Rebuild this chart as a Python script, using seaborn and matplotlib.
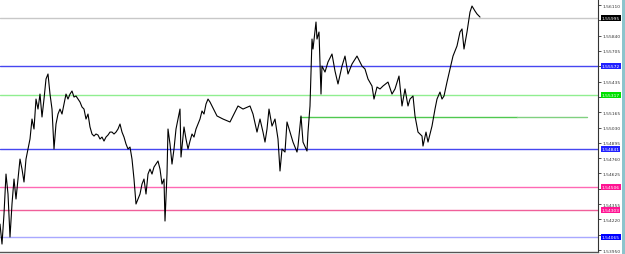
import matplotlib
matplotlib.use("Agg")
import matplotlib.pyplot as plt
import seaborn as sns
import pandas as pd
from matplotlib.patches import Rectangle

sns.set_theme(style="white")
plt.rcParams['font.family'] = ['DejaVu Sans']

# bar index (time) and close price
bar = [0, 2, 4, 6, 8, 10, 12, 14, 16, 18, 20, 22, 24, 26, 28, 30, 32, 34, 36, 38,
       40, 42, 44, 46, 48, 50, 52, 54, 56, 58, 60, 62, 64, 66, 68, 70, 72, 74, 76, 78,
       80, 82, 84, 86, 88, 90, 92, 94, 96, 98, 100, 102, 104, 106, 108, 110, 112, 114, 116, 118,
       120, 122, 124, 126, 128, 130, 132, 134, 136, 138, 140, 142, 144, 146, 148, 150, 152, 154, 156, 158,
       160, 162, 164, 165, 167, 168, 170, 172, 174, 176, 178, 180, 181, 184, 186, 188, 190, 192, 194, 196,
       198, 200, 202, 204, 206, 208, 210, 217, 223, 230, 233, 238, 243, 250, 253, 257, 260, 263, 265, 267,
       269, 272, 275, 278, 280, 282, 285, 287, 290, 293, 297, 298, 301, 303, 307, 308, 310, 312, 313, 316,
       317, 319, 321, 322, 325, 328, 332, 335, 338, 342, 345, 348, 352, 357, 362, 365, 368, 372, 374, 377,
       380, 383, 388, 392, 395, 399, 402, 405, 408, 410, 413, 415, 418, 422, 423, 426, 428, 432, 435, 437,
       440, 442, 444, 447, 450, 453, 457, 460, 462, 464, 467, 470, 472, 475, 477, 480]
price = [1.54179, 1.54003, 1.54268, 1.54620, 1.54444, 1.54065, 1.54356, 1.54576, 1.54400, 1.54576,
         1.54752, 1.54664, 1.54550, 1.54752, 1.54841, 1.54929, 1.55105, 1.55017, 1.55281, 1.55193,
         1.55325, 1.55123, 1.55281, 1.55458, 1.55502, 1.55325, 1.55193, 1.54841, 1.55061, 1.55149,
         1.55193, 1.55149, 1.55237, 1.55325, 1.55281, 1.55325, 1.55352, 1.55299, 1.55308, 1.55281,
         1.55255, 1.55211, 1.55193, 1.55105, 1.55149, 1.55035, 1.54973, 1.54955, 1.54973, 1.54964,
         1.54929, 1.54946, 1.54911, 1.54946, 1.54964, 1.54990, 1.54990, 1.54973, 1.54990, 1.55017,
         1.55061, 1.54990, 1.54946, 1.54885, 1.54841, 1.54858, 1.54752, 1.54576, 1.54356, 1.54400,
         1.54444, 1.54532, 1.54576, 1.54444, 1.54620, 1.54664, 1.54620, 1.54682, 1.54708, 1.54735,
         1.54664, 1.54532, 1.54576, 1.54206, 1.54620, 1.55017, 1.54885, 1.54708, 1.54841, 1.55017,
         1.55105, 1.55193, 1.54770, 1.55035, 1.54929, 1.54841, 1.54911, 1.54973, 1.54946, 1.55017,
         1.55061, 1.55105, 1.55176, 1.55149, 1.55237, 1.55281, 1.55255, 1.55132, 1.55105, 1.55079,
         1.55132, 1.55220, 1.55193, 1.55220, 1.55149, 1.54990, 1.55105, 1.54990, 1.54902, 1.55017,
         1.55193, 1.55043, 1.55105, 1.54929, 1.54647, 1.54841, 1.54814, 1.55079, 1.54990, 1.54902,
         1.54814, 1.54867, 1.55132, 1.54902, 1.54823, 1.54990, 1.55220, 1.55810, 1.55722, 1.55960,
         1.55810, 1.55872, 1.55325, 1.55572, 1.55519, 1.55608, 1.55678, 1.55528, 1.55414, 1.55572,
         1.55660, 1.55502, 1.55590, 1.55660, 1.55572, 1.55546, 1.55458, 1.55396, 1.55281, 1.55387,
         1.55370, 1.55396, 1.55431, 1.55325, 1.55370, 1.55484, 1.55220, 1.55370, 1.55220, 1.55281,
         1.55308, 1.55132, 1.54990, 1.54955, 1.54867, 1.54990, 1.54902, 1.55043, 1.55193, 1.55281,
         1.55343, 1.55281, 1.55308, 1.55431, 1.55546, 1.55660, 1.55749, 1.55872, 1.55899, 1.55722,
         1.55872, 1.56048, 1.56101, 1.56057, 1.56031, 1.56004]

# price scale ticks
tick_values = [1.56110, 1.55975, 1.55840, 1.55705, 1.55570, 1.55435, 1.55300, 1.55165, 1.55030,
               1.54895, 1.54760, 1.54625, 1.54490, 1.54355, 1.54220, 1.54085, 1.53950]
tick_labels = ["1.56110", "1.55975", "1.55840", "1.55705", "1.55570", "1.55435", "1.55300", "1.55165",
               "1.55030", "1.54895", "1.54760", "1.54625", "1.54490", "1.54355", "1.54220", "1.54085",
               "1.53950"]

# horizontal levels
level_prices = [1.55995, 1.55572, 1.55317, 1.54841, 1.54506, 1.54303, 1.54065]
level_labels = ["1.55995", "1.55572", "1.55317", "1.54841", "1.54506", "1.54303", "1.54065"]
level_colors = ["#c8c8c8", "#4646f0", "#90ee90", "#4646f0", "#ff69b4", "#f0609a", "#a8a8ff"]
box_colors = ["#000000", "#2020ff", "#00e000", "#2020ff", "#ff1493", "#ff1493", "#0000ff"]

# partial trend segment
seg_x = [300, 517, 517, 587]
seg_y = [1.55123, 1.55123, 1.55127, 1.55127]

fig = plt.figure(figsize=(6.25, 2.55), dpi=100)
fig.patch.set_facecolor("white")
ax = fig.add_axes([0, 2 / 255, 598 / 625, 253 / 255])
ax.set_facecolor("white")

for p, c in zip(level_prices, level_colors):
    ax.axhline(p, color=c, lw=1.0, zorder=1)

ax.plot(seg_x[:2], seg_y[:2], color="#50c850", lw=1.0, zorder=1)
ax.plot(seg_x[2:], seg_y[2:], color="#80d080", lw=1.0, zorder=1)

df = pd.DataFrame({"bar": bar, "price": price})
sns.lineplot(data=df, x="bar", y="price", estimator=None, color="black", lw=0.8, ax=ax, zorder=3)

ylo, yhi = 1.53933, 1.56163
ax.set_xlim(0, 598)
ax.set_ylim(ylo, yhi)
ax.set_xlabel("")
ax.set_ylabel("")
ax.set_xticks([])
ax.yaxis.tick_right()

# hide tick labels that sit under a level box (as the terminal does)
px_per_unit = 253 / (yhi - ylo)
shown = []
for v, lab in zip(tick_values, tick_labels):
    hidden = any(abs(v - p) * px_per_unit < 5 for p in level_prices)
    shown.append("" if hidden else lab)
ax.set_yticks(tick_values)
ax.set_yticklabels(shown)
ax.tick_params(axis="y", direction="out", length=2, width=0.6, pad=1, labelsize=3.2,
               colors="#333333", labelcolor="#333333", right=True, left=False)
for s in ["top", "left"]:
    ax.spines[s].set_visible(False)
ax.spines["right"].set_color("#333333")
ax.spines["right"].set_linewidth(0.8)
ax.spines["bottom"].set_color("#555555")
ax.spines["bottom"].set_linewidth(1.0)

for p, lab, bc in zip(level_prices, level_labels, box_colors):
    ax.text(1.006, p, lab, transform=ax.get_yaxis_transform(), fontsize=3.2, color="white",
            va="center", ha="left",
            bbox=dict(boxstyle="square,pad=0.2", fc=bc, ec="none"), zorder=5, clip_on=False)

fig.patches.append(Rectangle((622 / 625, 0), 3 / 625, 1, transform=fig.transFigure,
                             facecolor="#8cc4cc", edgecolor="none", zorder=0))

fig.savefig("out.png", dpi=100)
